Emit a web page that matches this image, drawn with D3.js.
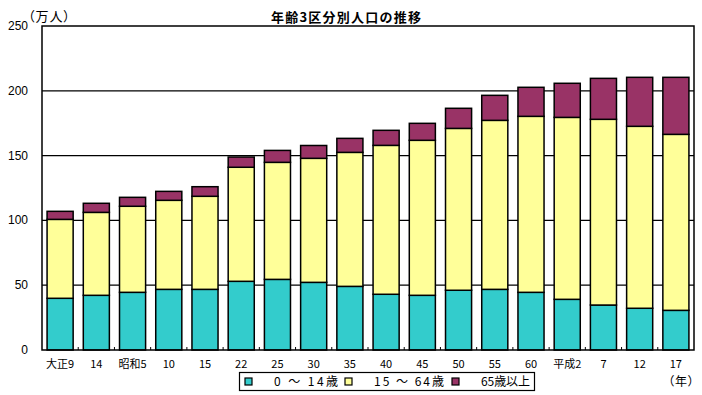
<!DOCTYPE html>
<html><head><meta charset="utf-8">
<script src="https://cdn.jsdelivr.net/npm/d3@7"></script>
<style>
html,body{margin:0;padding:0;background:#fff;}
svg{display:block;font-family:"Noto Sans CJK JP","DejaVu Sans",sans-serif;}
.palt{font-feature-settings:"palt" 1;}
</style></head>
<body>
<svg id="chart" width="702" height="395"></svg>
<script>
const categories = ["大正9","14","昭和5","10","15","22","25","30","35","40","45","50","55","60","平成2","7","12","17"];
const young   = [39.9, 42.2, 44.5, 46.8, 46.8, 53.0, 54.5, 52.2, 49.1, 43.0, 42.2, 46.1, 46.8, 44.5, 39.1, 34.7, 32.2, 30.6];
const working = [60.9, 64.0, 66.4, 68.7, 71.8, 88.0, 90.3, 95.7, 103.4, 114.9, 119.6, 124.9, 130.4, 135.8, 140.4, 143.3, 140.4, 135.8];
const elderly = [6.2, 7.0, 6.9, 6.9, 7.4, 7.9, 9.2, 9.9, 10.8, 11.6, 13.1, 15.5, 19.3, 22.4, 26.3, 31.6, 37.8, 44.0];
const seriesKeys = ["young","working","elderly"];
const seriesNames = ["0 ～ 14歳","15 ～ 64歳","65歳以上"];
const colors = ["#33CCCC","#FFFF99","#993366"];
const yTicks = [0,50,100,150,200,250];
const title = "年齢3区分別人口の推移";

const rows = categories.map((c,i)=>({cat:c, young:young[i], working:working[i], elderly:elderly[i]}));
const svg = d3.select("#chart");
const L=42, R=694, T=26, B=350;
const x = d3.scaleBand().domain(categories).range([L,R]).paddingInner(0.28).paddingOuter(0.14);
const y = d3.scaleLinear().domain([0,250]).range([B,T]);

// gridlines
svg.append("g").selectAll("line").data(yTicks.filter(t=>t>0&&t<250)).join("line")
  .attr("x1",L).attr("x2",R).attr("y1",d=>y(d)).attr("y2",d=>y(d))
  .attr("stroke","#000").attr("stroke-width",1.2);

// bars
const stacked = d3.stack().keys(seriesKeys)(rows);
svg.append("g").selectAll("g").data(stacked).join("g")
  .attr("fill",(d,i)=>colors[i])
  .selectAll("rect").data(d=>d).join("rect")
  .attr("x",d=>x(d.data.cat)).attr("width",x.bandwidth())
  .attr("y",d=>y(d[1])).attr("height",d=>y(d[0])-y(d[1]))
  .attr("stroke","#000").attr("stroke-width",1.5);

// frame
svg.append("rect").attr("x",L).attr("y",T).attr("width",R-L).attr("height",B-T)
  .attr("fill","none").attr("stroke","#000").attr("stroke-width",1.5);

// x ticks (inward at band boundaries)
const bounds = d3.range(1,categories.length).map(i=>L+i*(R-L)/categories.length);
svg.append("g").selectAll("line").data(bounds).join("line")
  .attr("x1",d=>d).attr("x2",d=>d).attr("y1",B).attr("y2",B-3)
  .attr("stroke","#000").attr("stroke-width",1);

// y axis labels
svg.append("g").selectAll("text").data(yTicks).join("text")
  .attr("x",28).attr("y",d=>y(d)+4).attr("text-anchor","end")
  .attr("font-family","'Liberation Sans',Arial,sans-serif").attr("font-size",12).text(d=>d);

// x labels
svg.append("g").selectAll("text").data(categories).join("text")
  .attr("x",d=>x(d)+x.bandwidth()/2).attr("y",368).attr("text-anchor","middle")
  .attr("font-size",11).text(d=>d);

svg.append("text").attr("class","palt").attr("x",28).attr("y",21).attr("font-size",13)
  .attr("letter-spacing",1).text("（万人）");
svg.append("text").attr("class","palt").attr("x",668).attr("y",386).attr("font-size",12)
  .attr("letter-spacing",1).text("（年）");

svg.append("text").attr("x",271).attr("y",22)
  .attr("font-size",13).attr("font-weight","bold")
  .attr("textLength",150).attr("lengthAdjust","spacing").text(title);

// legend
const lg = svg.append("g");
lg.append("rect").attr("x",239.5).attr("y",372.5).attr("width",295).attr("height",18)
  .attr("fill","#fff").attr("stroke","#000").attr("stroke-width",1.2);
const lx = [245,345,452];
const tx = [274,374,481];
const tw = [64,70,49];
seriesNames.forEach((n,i)=>{
  lg.append("rect").attr("x",lx[i]).attr("y",378).attr("width",7).attr("height",7)
    .attr("fill",colors[i]).attr("stroke","#000").attr("stroke-width",1.2);
  lg.append("text").attr("x",tx[i]).attr("y",386)
    .attr("font-size",12).attr("textLength",tw[i]).attr("lengthAdjust","spacing").text(n);
});
</script>
</body></html>
